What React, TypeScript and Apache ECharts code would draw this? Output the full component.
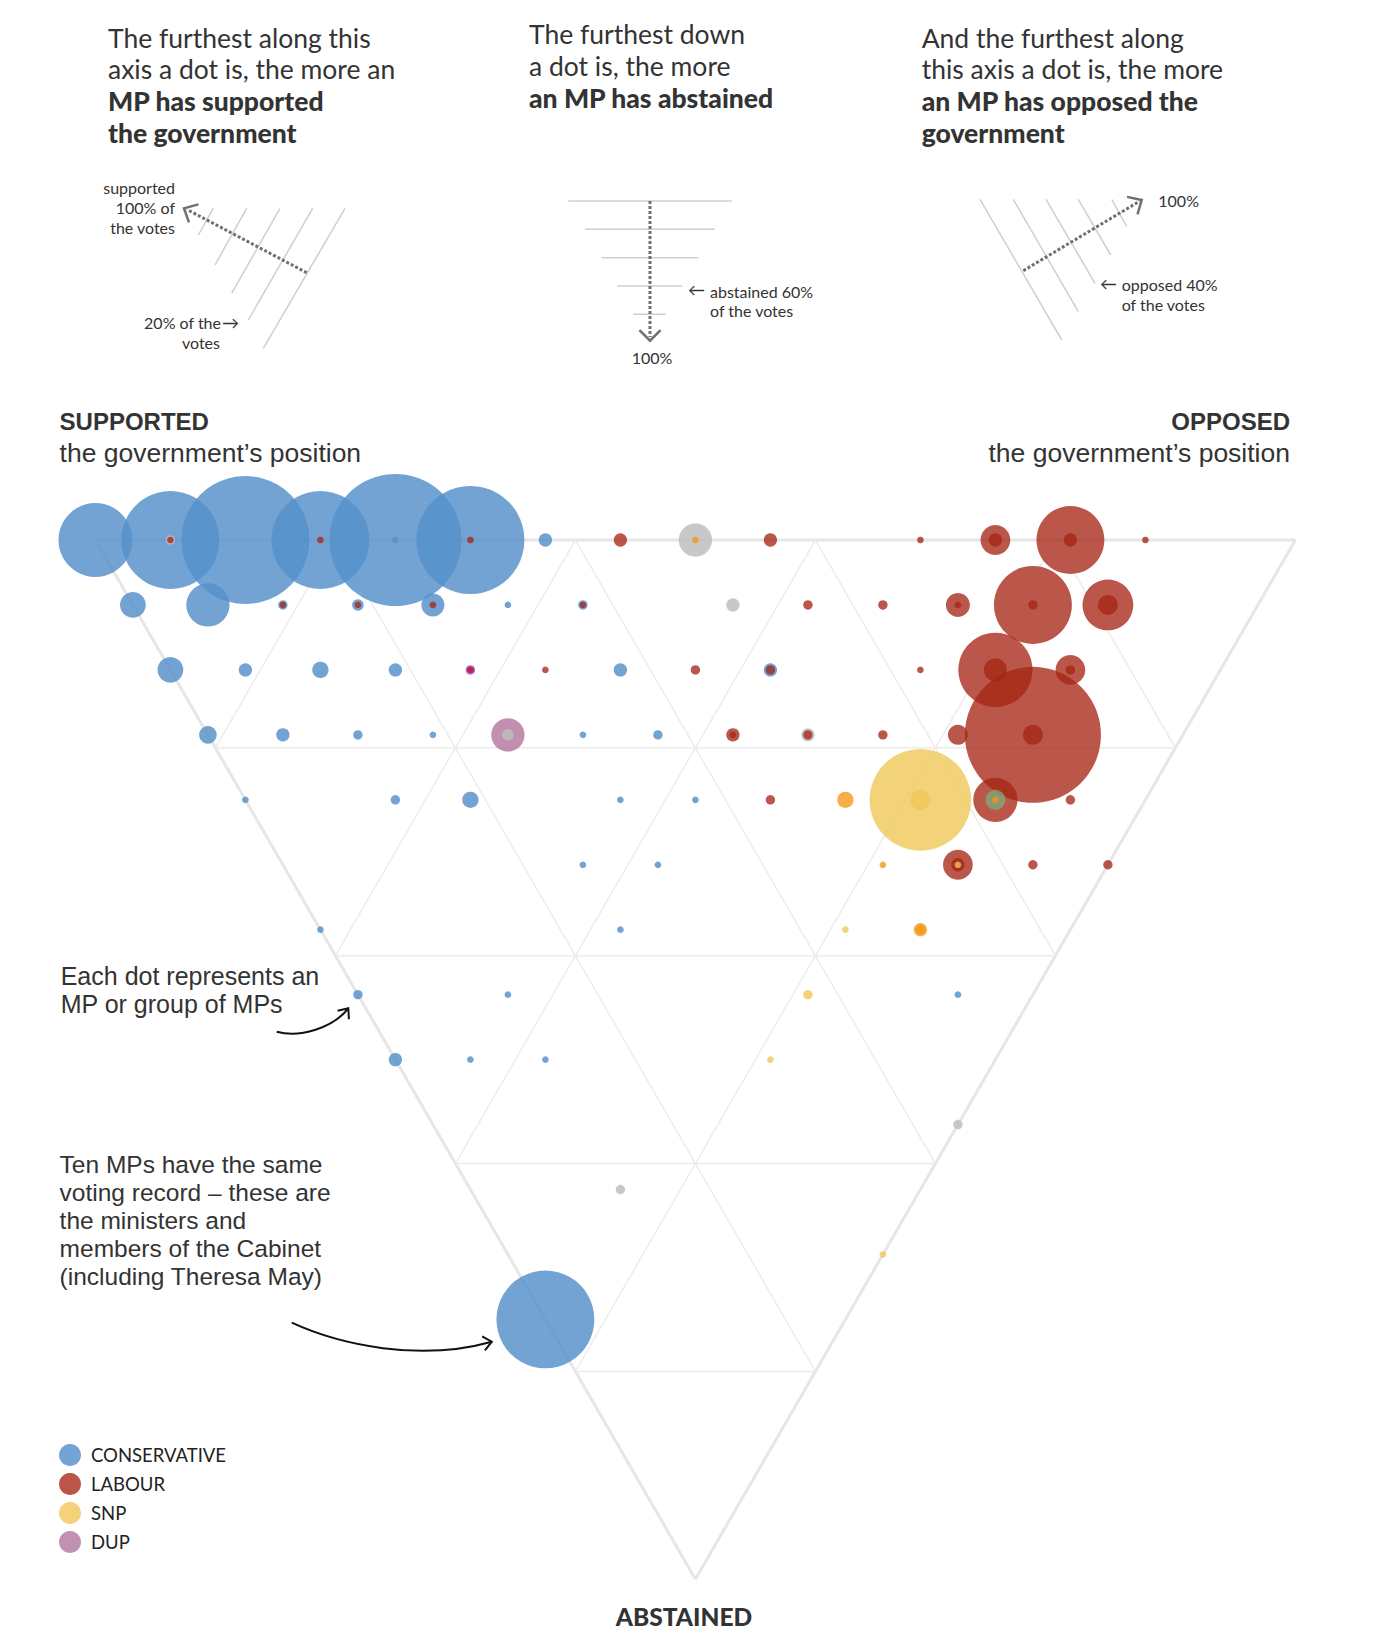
import React, { useEffect, useRef } from "react";
import * as echarts from "echarts";

// Each MP's record over 16 votes: [abstained, opposed, weight]; supported = 16 - abstained - opposed
const TOTAL_VOTES = 16;

const conservative = [
  [0, 0, 123], [0, 1, 216], [0, 2, 369], [0, 3, 216], [0, 4, 393], [0, 4, 1], [0, 5, 263], [0, 6, 4],
  [1, 0, 15], [1, 1, 42], [1, 2, 2], [1, 3, 3], [1, 4, 12], [1, 5, 1], [1, 6, 2],
  [2, 0, 15], [2, 1, 4], [2, 2, 6], [2, 3, 4], [2, 6, 4], [2, 8, 4],
  [3, 0, 7], [3, 1, 4], [3, 2, 2], [3, 3, 1], [3, 5, 1], [3, 6, 2],
  [4, 0, 1], [4, 2, 2], [4, 3, 6], [4, 5, 1], [4, 6, 1],
  [5, 4, 1], [5, 5, 1],
  [6, 0, 1], [6, 4, 1],
  [7, 0, 2], [7, 2, 1], [7, 8, 1],
  [8, 0, 4], [8, 1, 1], [8, 2, 1],
  [12, 0, 216],
];

const labour = [
  [0, 1, 1], [0, 3, 1], [0, 5, 1], [0, 7, 4], [0, 9, 4], [0, 11, 1], [0, 12, 20], [0, 12, 4], [0, 13, 104], [0, 13, 4], [0, 14, 1],
  [1, 2, 1], [1, 3, 1], [1, 4, 1], [1, 6, 1], [1, 9, 2], [1, 10, 2], [1, 11, 13], [1, 11, 1], [1, 12, 137], [1, 12, 2], [1, 13, 58], [1, 13, 9],
  [2, 4, 1], [2, 5, 1], [2, 7, 2], [2, 8, 2], [2, 10, 1], [2, 11, 124], [2, 11, 12], [2, 12, 20], [2, 12, 2],
  [3, 7, 4], [3, 7, 1], [3, 8, 2], [3, 9, 2], [3, 10, 9], [3, 11, 417], [3, 11, 9],
  [4, 7, 2], [4, 10, 44], [4, 11, 2],
  [5, 9, 20], [5, 9, 4], [5, 10, 2], [5, 11, 2],
];

const snp = [[4, 9, 233], [4, 9, 9], [5, 9, 1], [6, 7, 1], [7, 6, 2], [8, 5, 1], [11, 5, 1]];
const dup = [[3, 4, 25]];
const libDem = [[0, 8, 1], [4, 8, 6], [4, 10, 1], [5, 8, 1], [6, 8, 4], [6, 8, 2]];
const others = [[0, 1, 2], [0, 8, 25], [1, 8, 4], [3, 4, 3], [3, 8, 4], [9, 7, 2], [10, 2, 2]];
const green = [[4, 10, 9]];
const plaid = [[2, 4, 2]];

const legendNames = ["CONSERVATIVE", "LABOUR", "SNP", "DUP"];
const legendColors = ["#73a4d4", "#bb5549", "#f4d27a", "#c290b0"];
const gridFractions = [0.2, 0.4, 0.6, 0.8];

const parties = [
  { rows: conservative, color: "rgba(85,144,202,0.83)" },
  { rows: labour, color: "rgba(165,36,20,0.77)" },
  { rows: snp, color: "rgba(240,198,84,0.78)" },
  { rows: dup, color: "rgba(178,115,156,0.8)" },
  { rows: libDem, color: "rgba(245,150,20,0.78)" },
  { rows: others, color: "rgba(190,190,190,0.85)" },
  { rows: green, color: "rgba(120,180,130,0.7)" },
  { rows: plaid, color: "rgba(180,60,220,0.85)" },
];

const FONT = 'Lato, "Source Sans Pro", "Noto Sans", sans-serif';
const TIGHT = '"Liberation Sans", Arimo, Arial, sans-serif';
const INK = "#333";
const HEAVY = "900";

// ternary (abstained, opposed) -> cartesian data coordinates
const tern = (abst: number, opp: number) => [opp + abst / 2, abst];

function txt(x: number, y: number, t: string, size: number, weight = "normal", align = "left", family = FONT) {
  return {
    type: "text",
    x,
    y,
    silent: true,
    style: { text: t, fill: INK, fontSize: size, fontWeight: weight, fontFamily: family, align, verticalAlign: "middle" },
  };
}
function ln(x1: number, y1: number, x2: number, y2: number, stroke = "#cfcfcf", lineWidth = 1.5, dash?: number[]) {
  return { type: "line", silent: true, shape: { x1, y1, x2, y2 }, style: { stroke, lineWidth, lineDash: dash || null } };
}
function chevron(tx: number, ty: number, fx: number, fy: number, len: number, spread: number, stroke: string, lineWidth: number) {
  const a = Math.atan2(ty - fy, tx - fx);
  return {
    type: "polyline",
    silent: true,
    shape: {
      points: [
        [tx - len * Math.cos(a - spread), ty - len * Math.sin(a - spread)],
        [tx, ty],
        [tx - len * Math.cos(a + spread), ty - len * Math.sin(a + spread)],
      ],
    },
    style: { stroke, lineWidth, fill: null },
  };
}

function buildOption() {
  // dots: largest first so smaller dots sit on top
  const dots: any[] = [];
  parties.forEach((p) =>
    p.rows.forEach(([a, o, w]) => dots.push({ value: [...tern(a, o), w], itemStyle: { color: p.color } }))
  );
  dots.sort((d1, d2) => d2.value[2] - d1.value[2]);

  const segs: any[] = [];
  const seg = (p: number[], q: number[], outer: boolean) =>
    segs.push({
      type: "line",
      data: [p, q],
      symbol: "none",
      silent: true,
      clip: false,
      z: 1,
      lineStyle: { color: outer ? "#e6e6e6" : "#ececec", width: outer ? 3 : 1.5 },
    });
  const N = TOTAL_VOTES;
  seg(tern(0, 0), tern(0, N), true);
  seg(tern(0, 0), tern(N, 0), true);
  seg(tern(0, N), tern(N, 0), true);
  gridFractions.forEach((f) => {
    const t = f * N;
    seg(tern(t, 0), tern(t, N - t), false);
    seg(tern(0, t), tern(N - t, t), false);
    seg(tern(0, N - t), tern(N - t, 0), false);
  });

  const DOT = "#707070";
  const TS = 26.5;
  const tenLines = [
    "Ten MPs have the same",
    "voting record \u2013 these are",
    "the ministers and",
    "members of the Cabinet",
    "(including Theresa May)",
  ];
  const graphics: any[] = [
    // top explanatory text
    txt(108, 37.6, "The furthest along this", TS),
    txt(108, 69.4, "axis a dot is, the more an", TS),
    txt(108, 101.2, "MP has supported", TS, HEAVY),
    txt(108, 133, "the government", TS, HEAVY),
    txt(529, 34.2, "The furthest down", TS),
    txt(529, 66, "a dot is, the more", TS),
    txt(529, 97.8, "an MP has abstained", TS, HEAVY),
    txt(921.7, 37.6, "And the furthest along", TS),
    txt(921.7, 69.4, "this axis a dot is, the more", TS),
    txt(921.7, 101.2, "an MP has opposed the", TS, HEAVY),
    txt(921.7, 133, "government", TS, HEAVY),

    // left diagram
    ln(198.3, 235, 213.3, 208.3),
    ln(215, 265, 246.7, 208.3),
    ln(231.7, 293.3, 280, 208.3),
    ln(248.3, 320, 312.7, 208.3),
    ln(263.3, 348.3, 345, 208.3),
    ln(306.7, 272.7, 187, 209.5, DOT, 3, [3, 2]),
    chevron(184, 208.3, 306.7, 272.7, 15, 0.75, DOT, 2.5),
    txt(175, 187.5, "supported", 16, "normal", "right"),
    txt(175, 207.5, "100% of", 16, "normal", "right"),
    txt(175, 227.5, "the votes", 16, "normal", "right"),
    txt(221, 322.5, "20% of the", 16, "normal", "right"),
    txt(222, 322, "\u2192", 17),
    txt(220, 342.5, "votes", 16, "normal", "right"),

    // middle diagram
    ln(568.3, 201, 731.7, 201),
    ln(585, 229.3, 715, 229.3),
    ln(601.7, 257.7, 698.3, 257.7),
    ln(617.3, 286, 682.3, 286),
    ln(633.3, 314.3, 666, 314.3),
    ln(650, 201, 650, 337, DOT, 3, [3, 2]),
    chevron(650, 340.7, 650, 201, 15, 0.78, DOT, 2.5),
    txt(688, 289, "\u2190", 17),
    txt(710, 291, "abstained 60%", 16),
    txt(710, 310.6, "of the votes", 16),
    txt(652, 357, "100%", 16, "normal", "center"),

    // right diagram
    ln(980, 199.3, 1061.7, 340),
    ln(1013.3, 199.3, 1078.3, 311.7),
    ln(1046, 199.3, 1095, 283.3),
    ln(1078.3, 199.3, 1110.7, 255),
    ln(1111.7, 199.3, 1126.7, 226.7),
    ln(1023.3, 270.7, 1139.5, 201.3, DOT, 3, [3, 2]),
    chevron(1141.7, 200, 1023.3, 270.7, 15, 0.75, DOT, 2.5),
    txt(1158.3, 200.4, "100%", 16),
    txt(1100, 283, "\u2190", 17),
    txt(1121.7, 284.5, "opposed 40%", 16),
    txt(1121.7, 304, "of the votes", 16),

    // axis headings
    txt(59.6, 421.5, "SUPPORTED", 24, "bold", "left", TIGHT),
    txt(59.6, 452.5, "the government\u2019s position", 26.5, "normal", "left", TIGHT),
    txt(1290, 421.5, "OPPOSED", 24, "bold", "right", TIGHT),
    txt(1290, 452.5, "the government\u2019s position", 26.5, "normal", "right", TIGHT),
    txt(684, 1616.7, "ABSTAINED", 24.5, HEAVY, "center"),

    // annotations
    txt(60.7, 976, "Each dot represents an", 25, "normal", "left", TIGHT),
    txt(60.7, 1004, "MP or group of MPs", 25, "normal", "left", TIGHT),
    {
      type: "bezierCurve",
      silent: true,
      shape: { x1: 276.7, y1: 1031.7, cpx1: 300, cpy1: 1038, cpx2: 333, cpy2: 1028, x2: 348.3, y2: 1008.3 },
      style: { stroke: "#111", lineWidth: 2, fill: null },
    },
    chevron(348.3, 1008.3, 338, 1022, 11, 0.7, "#111", 2),
    ...tenLines.map((t, i) => txt(59.6, 1164 + i * 28, t, 24.5, "normal", "left", TIGHT)),
    {
      type: "bezierCurve",
      silent: true,
      shape: { x1: 291.8, y1: 1322.7, cpx1: 340, cpy1: 1345, cpx2: 420, cpy2: 1362, x2: 491.8, y2: 1341.7 },
      style: { stroke: "#111", lineWidth: 2, fill: null },
    },
    chevron(491.8, 1341.7, 470, 1346, 11, 0.7, "#111", 2),
  ];

  const legendSeries = legendNames.map((name, i) => ({
    type: "scatter",
    name,
    data: [],
    itemStyle: { color: legendColors[i], opacity: 1 },
  }));

  return {
    animation: false,
    backgroundColor: "#ffffff",
    grid: { left: 95.4, top: 540, width: 1200, height: 1200 * Math.sqrt(3) / 2 },
    xAxis: { type: "value", min: 0, max: TOTAL_VOTES, show: false },
    yAxis: { type: "value", min: 0, max: TOTAL_VOTES, inverse: true, show: false },
    legend: {
      data: legendNames,
      orient: "vertical",
      left: 59,
      top: 1444,
      padding: 0,
      itemWidth: 22,
      itemHeight: 22,
      itemGap: 7,
      icon: "circle",
      selectedMode: false,
      textStyle: { fontFamily: FONT, fontWeight: "normal", fontSize: 18.5, color: "#222", padding: [0, 0, 0, 5] },
    },
    graphic: { elements: graphics },
    series: [
      ...segs,
      {
        type: "scatter",
        name: "MPs",
        z: 3,
        clip: false,
        silent: true,
        data: dots,
        symbol: "circle",
        symbolSize: (v: number[]) => 2 * 3.33 * Math.sqrt(v[2]),
        itemStyle: { opacity: 1 },
      },
      ...legendSeries,
    ],
  };
}

export default function App() {
  const ref = useRef<HTMLDivElement>(null);
  useEffect(() => {
    const chart = echarts.init(ref.current as HTMLDivElement, null, { renderer: "svg" });
    chart.setOption(buildOption() as any);
    return () => chart.dispose();
  }, []);
  return (
    <div
      ref={ref}
      style={{ position: "absolute", left: 0, top: 0, width: 1378, height: 1650, background: "#fff" }}
    />
  );
}
